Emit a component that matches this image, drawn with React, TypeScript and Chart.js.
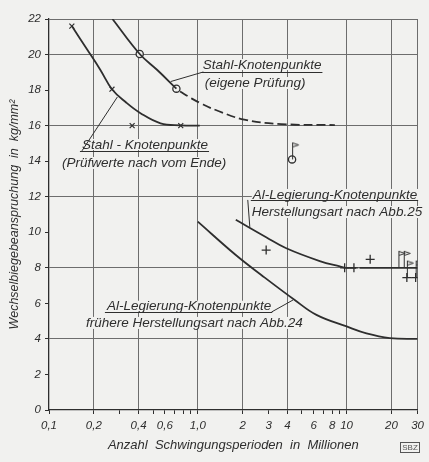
import React, { useEffect, useRef } from "react";
import { Chart, registerables } from "chart.js";

Chart.register(...registerables);

// ---------- data ----------
const xTicks = [0.1, 0.2, 0.3, 0.4, 0.5, 0.6, 0.7, 0.8, 0.9, 1, 2, 3, 4, 5, 6, 7, 8, 9, 10, 20, 30];
const xTickLabels: Record<string, string> = {
  "0.1": "0,1", "0.2": "0,2", "0.4": "0,4", "0.6": "0,6", "1": "1,0",
  "2": "2", "3": "3", "4": "4", "6": "6", "8": "8", "10": "10", "20": "20", "30": "30",
};
const xGridValues = [0.2, 0.4, 1, 2, 4, 10, 20, 30];
const yGridValues = [4, 8, 12, 16, 20, 22];

// Stahl-Knotenpunkte (eigene Prüfung)
const steelOwnSolidX = [0.267, 0.407, 0.534, 0.718];
const steelOwnSolidY = [22, 20.03, 19.13, 18.08];
const steelOwnDashX = [0.76, 0.9, 1.05, 1.32, 2.05, 3.64, 8.34];
const steelOwnDashY = [17.92, 17.55, 17.25, 16.88, 16.34, 16.09, 16.03];
const steelOwnCircleX = [0.407, 0.718, 4.3];
const steelOwnCircleY = [20.03, 18.08, 14.1];

// Stahl-Knotenpunkte (Prüfwerte nach vom Ende)
const steelEndX = [0.1424, 0.18, 0.221, 0.265, 0.33, 0.412, 0.562, 0.768, 1.03];
const steelEndY = [21.6, 20.3, 19.15, 18.05, 17.3, 16.7, 16.13, 16.02, 16.0];
const steelEndMarkX = [0.1424, 0.265, 0.362, 0.768];
const steelEndMarkY = [21.6, 18.05, 16.0, 16.0];

// Al-Legierung, Herstellungsart nach Abb. 25
const alNewCurveX = [1.8, 2.88, 3.93, 6.6, 9.0, 10, 11.6];
const alNewCurveY = [10.7, 9.72, 9.1, 8.38, 8.08, 8.0, 8.0];
const alNewLineX = [12.2, 30];
const alNewLineY = [8, 8];
const alNewCrossX = [2.88, 9.7, 11.2, 14.4, 25.4, 29.1];
const alNewCrossY = [9.0, 8.0, 8.0, 8.48, 7.45, 7.45];

// run-outs (flag = not broken)
const runoutX = [4.3, 22.3, 24.2, 25.4, 29.1];
const runoutY = [14.1, 8, 8, 7.45, 7.45];

// Al-Legierung, frühere Herstellungsart nach Abb. 24
const alOldCurveX = [1.0, 1.8, 2.67, 4.48, 6.27, 10, 13.6, 19.5, 30];
const alOldCurveY = [10.6, 8.72, 7.6, 6.19, 5.35, 4.7, 4.31, 4.05, 4.0];

// ---------- styles ----------
const INK = "#2e2e2e";
const GRID = "#6d6d6d";
const BG = "#f1f1ef";
const FONT = '"Liberation Sans", Arial, sans-serif';

const pts = (xs: number[], ys: number[]) => xs.map((x, i) => ({ x, y: ys[i] }));

// annotation texts with data-anchored positions
const notes = [
  {
    l1: "Stahl-Knotenpunkte", p1: [1.081, 19.41],
    l2: "(eigene Prüfung)", p2: [1.115, 18.4],
    u: 19.02, leader: [[1.09, 19.02], [0.657, 18.48]],
  },
  {
    l1: "Stahl - Knotenpunkte", p1: [0.1665, 14.91],
    l2: "(Prüfwerte nach vom Ende)", p2: [0.1223, 13.9],
    u: 14.58, leader: [[0.1665, 14.58], [0.288, 17.61]],
  },
  {
    l1: "Al-Legierung-Knotenpunkte", p1: [2.342, 12.1],
    l2: "Herstellungsart nach Abb.25", p2: [2.306, 11.14],
    u: 11.82, leader: [[2.167, 11.82], [2.236, 10.3]],
  },
  {
    l1: "Al-Legierung-Knotenpunkte", p1: [0.245, 5.81],
    l2: "frühere Herstellungsart nach Abb.24", p2: [0.177, 4.9],
    u: 5.51, leader: [[3.126, 5.51], [4.365, 6.19]],
  },
];

function makeFlag(): HTMLCanvasElement {
  const c = document.createElement("canvas");
  const L = 17;
  c.width = 16;
  c.height = 2 * L + 2;
  const g = c.getContext("2d")!;
  const cx = 8;
  const cy = L + 1;
  g.strokeStyle = INK;
  g.lineWidth = 1;
  g.beginPath();
  g.moveTo(cx + 0.5, cy);
  g.lineTo(cx + 0.5, 1);
  g.stroke();
  g.beginPath();
  g.moveTo(cx + 0.5, 1.5);
  g.lineTo(cx + 6.5, 3.5);
  g.lineTo(cx + 0.5, 5.5);
  g.stroke();
  return c;
}

const notesPlugin = {
  id: "notes",
  afterDatasetsDraw(chart: any) {
    const { ctx } = chart;
    const xs = chart.scales.x;
    const ys = chart.scales.y;
    ctx.save();
    ctx.fillStyle = INK;
    ctx.strokeStyle = INK;
    ctx.lineWidth = 1;
    ctx.font = `italic 13.5px ${FONT}`;
    ctx.textBaseline = "middle";
    ctx.textAlign = "left";
    for (const n of notes) {
      const x1 = xs.getPixelForValue(n.p1[0]);
      const y1 = ys.getPixelForValue(n.p1[1]);
      const x2 = xs.getPixelForValue(n.p2[0]);
      const y2 = ys.getPixelForValue(n.p2[1]);
      const w1 = ctx.measureText(n.l1).width;
      const w2 = ctx.measureText(n.l2).width;
      ctx.fillStyle = BG;
      ctx.fillRect(x1 - 1, y1 - 6, w1 + 2, 11);
      ctx.fillRect(x2 - 1, y2 - 6, w2 + 2, 12);
      ctx.fillStyle = INK;
      ctx.fillText(n.l1, x1, y1);
      ctx.fillText(n.l2, x2, y2);
      const uy = Math.round(ys.getPixelForValue(n.u)) + 0.5;
      ctx.beginPath();
      ctx.moveTo(x1 - 2, uy);
      ctx.lineTo(x1 + w1 + 1, uy);
      ctx.stroke();
      const a = n.leader[0];
      const b = n.leader[1];
      ctx.beginPath();
      ctx.moveTo(xs.getPixelForValue(a[0]), ys.getPixelForValue(a[1]));
      ctx.lineTo(xs.getPixelForValue(b[0]), ys.getPixelForValue(b[1]));
      ctx.stroke();
    }
    ctx.restore();
  },
  afterDraw(chart: any) {
    const { ctx } = chart;
    ctx.save();
    ctx.strokeStyle = "#555";
    ctx.lineWidth = 1;
    ctx.strokeRect(400.5, 442.5, 19, 10);
    ctx.fillStyle = "#555";
    ctx.font = `8px ${FONT}`;
    ctx.textAlign = "center";
    ctx.textBaseline = "middle";
    ctx.fillText("SBZ", 410, 448);
    ctx.restore();
  },
};

export default function App() {
  const ref = useRef<HTMLCanvasElement>(null);

  useEffect(() => {
    document.body.style.margin = "0";
    document.body.style.background = BG;
    const flag = makeFlag();
    const line = (data: any, extra: any = {}) => ({
      data,
      showLine: true,
      borderColor: INK,
      borderWidth: 1.8,
      pointRadius: 0,
      pointHoverRadius: 0,
      tension: 0.4,
      fill: false,
      ...extra,
    });
    const chart = new Chart(ref.current!, {
      type: "scatter",
      data: {
        datasets: [
          line(pts(steelOwnSolidX, steelOwnSolidY)),
          line(pts(steelOwnDashX, steelOwnDashY), { borderDash: [9, 4] }),
          line(pts(steelEndX, steelEndY)),
          line(pts(alNewCurveX, alNewCurveY)),
          line(pts(alNewLineX, alNewLineY)),
          line(pts(alOldCurveX, alOldCurveY)),
          {
            data: pts(runoutX, runoutY),
            pointStyle: flag,
            pointRadius: 8,
            showLine: false,
          },
          {
            data: pts(steelOwnCircleX, steelOwnCircleY),
            pointStyle: "circle",
            pointRadius: 3.6,
            borderWidth: 1.3,
            borderColor: INK,
            backgroundColor: BG,
            showLine: false,
          },
          {
            data: pts(steelEndMarkX, steelEndMarkY),
            pointStyle: "crossRot",
            pointRadius: 3.5,
            borderWidth: 1.2,
            borderColor: INK,
            showLine: false,
          },
          {
            data: pts(alNewCrossX, alNewCrossY),
            pointStyle: "cross",
            pointRadius: 4.5,
            borderWidth: 1.3,
            borderColor: INK,
            showLine: false,
          },
        ] as any,
      },
      options: {
        responsive: false,
        animation: false,
        devicePixelRatio: 1,
        layout: { padding: { top: 19, right: 11, left: 0, bottom: 0 } },
        plugins: { legend: { display: false }, tooltip: { enabled: false } },
        events: [],
        scales: {
          x: {
            type: "logarithmic",
            min: 0.1,
            max: 30,
            afterBuildTicks: (s: any) => {
              s.ticks = xTicks.map((v) => ({ value: v }));
            },
            afterFit: (s: any) => {
              s.height = 52;
            },
            ticks: {
              autoSkip: false,
              maxRotation: 0,
              padding: 5,
              color: INK,
              font: { family: FONT, size: 11.5, style: "italic" },
              callback: (v: any) => xTickLabels[String(Number(v))] ?? "",
            },
            grid: {
              color: (c: any) =>
                c.tick && xGridValues.some((g) => Math.abs(g - c.tick.value) < 1e-9) ? GRID : "rgba(0,0,0,0)",
              tickColor: INK,
              tickLength: 4,
              lineWidth: 1,
            },
            border: { color: INK, width: 1.3 },
            title: {
              display: true,
              text: "Anzahl  Schwingungsperioden  in  Millionen",
              color: INK,
              font: { family: FONT, size: 13, style: "italic" },
              padding: { top: 0, bottom: 9 },
            },
          },
          y: {
            min: 0,
            max: 22,
            afterFit: (s: any) => {
              s.width = 49;
            },
            ticks: {
              stepSize: 2,
              padding: 4,
              color: INK,
              font: { family: FONT, size: 11.5, style: "italic" },
            },
            grid: {
              color: (c: any) =>
                c.tick && yGridValues.includes(c.tick.value) ? GRID : "rgba(0,0,0,0)",
              tickColor: INK,
              tickLength: 4,
              lineWidth: 1,
            },
            border: { color: INK, width: 1.3 },
            title: {
              display: true,
              text: "Wechselbiegebeanspruchung  in  kg/mm²",
              color: INK,
              font: { family: FONT, size: 12.5, style: "italic" },
              padding: { top: 7, bottom: 0 },
            },
          },
        },
      } as any,
      plugins: [notesPlugin],
    });
    return () => chart.destroy();
  }, []);

  return (
    <div style={{ position: "fixed", left: 0, top: 0, width: 429, height: 462, background: BG }}>
      <canvas ref={ref} width={429} height={462} style={{ display: "block" }} />
    </div>
  );
}
